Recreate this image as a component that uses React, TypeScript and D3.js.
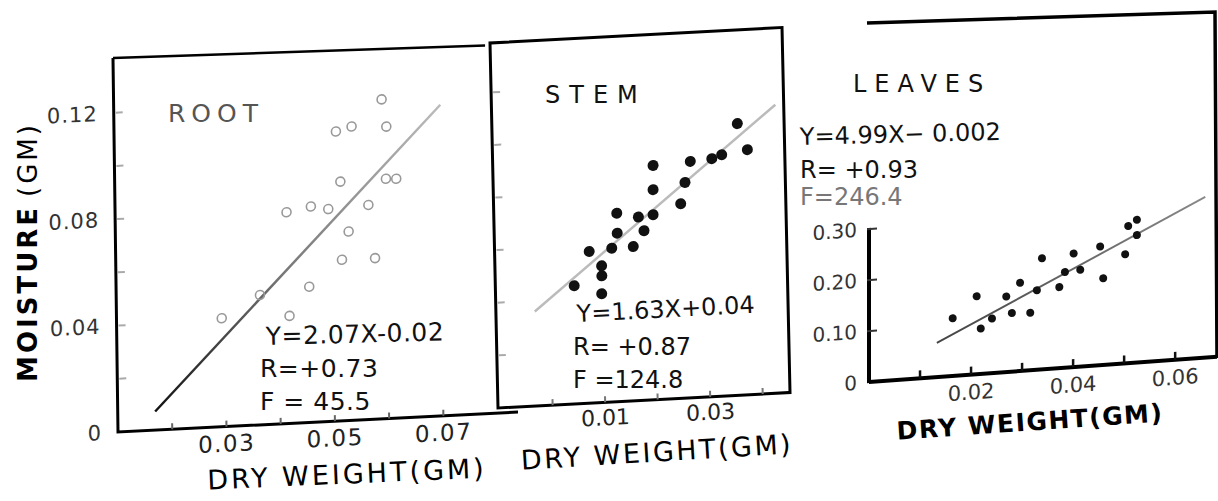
import * as d3 from "d3";

// ROOT panel (open symbols)
const rootDry = [0.0594, 0.0509, 0.0538, 0.0602, 0.0516, 0.06, 0.0619, 0.0416, 0.0461, 0.0493, 0.0567, 0.053, 0.0517, 0.0578, 0.0456, 0.0365, 0.0419, 0.0294];
const rootMoist = [0.12, 0.1088, 0.1104, 0.1097, 0.0899, 0.0901, 0.0899, 0.0794, 0.0811, 0.0798, 0.0806, 0.071, 0.0605, 0.0605, 0.051, 0.0488, 0.0404, 0.0408];
const rootFitX = [0.0169, 0.0702];
const rootFitY = [0.007, 0.1169];
const rootXTicks = [0.02, 0.03, 0.04, 0.05, 0.06, 0.07];
const rootXLabels = ["0.03", "0.05", "0.07"];
const rootYTicks = [0.02, 0.04, 0.06, 0.08, 0.1, 0.12];
const rootYLabels = ["0", "0.04", "0.08", "0.12"];
const rootStats = ["Y=2.07X-0.02", "R=+0.73", "F = 45.5"];

// STEM panel (filled dots)
const stemDry = [0.0363, 0.0381, 0.0313, 0.0332, 0.0272, 0.0201, 0.0261, 0.02, 0.0252, 0.013, 0.0171, 0.0199, 0.013, 0.0181, 0.0076, 0.0119, 0.016, 0.0099, 0.0099, 0.0046, 0.0098];
const stemMoist = [0.1032, 0.0931, 0.0904, 0.0917, 0.0898, 0.089, 0.0819, 0.0798, 0.0739, 0.0716, 0.0697, 0.0703, 0.064, 0.0644, 0.0576, 0.0584, 0.0586, 0.0519, 0.0481, 0.0449, 0.0413];
const stemFitX = [-0.003, 0.0436];
const stemFitY = [0.0359, 0.1096];
const stemXTicks = [0, 0.01, 0.02, 0.03, 0.04];
const stemXLabels = ["0.01", "0.03"];
const stemYTicks = [0.02, 0.04, 0.06, 0.08, 0.1, 0.12];
const stemStats = ["Y=1.63X+0.04", "R= +0.87", "F =124.8"];

// LEAVES panel
const leafDry = [0.0164, 0.0211, 0.0219, 0.0241, 0.0269, 0.028, 0.0296, 0.0316, 0.0329, 0.0339, 0.0373, 0.0384, 0.0401, 0.0414, 0.0453, 0.0459, 0.0502, 0.0508, 0.0525, 0.0525];
const leafMoist = [0.113, 0.153, 0.089, 0.107, 0.148, 0.115, 0.173, 0.113, 0.156, 0.218, 0.159, 0.188, 0.223, 0.19, 0.233, 0.17, 0.214, 0.269, 0.28, 0.25];
const leafFitX = [0.0133, 0.0659];
const leafFitY = [0.067, 0.315];
const leafXTicks = [0.01, 0.02, 0.03, 0.04, 0.05, 0.06];
const leafXLabels = ["0.02", "0.04", "0.06"];
const leafYTicks = [0.1, 0.2, 0.3];
const leafYLabels = ["0", "0.10", "0.20", "0.30"];
const leafStats = ["Y=4.99X\u2212 0.002", "R= +0.93", "F=246.4"];

const font = "'DejaVu Sans', sans-serif";

export default function App() {
  const width = 1218;
  const height = 501;

  // local scales; each panel group is skewed like the scanned original
  const rx = d3.scaleLinear().domain([0.01, 0.0786]).range([0, 372]);
  const ry = d3.scaleLinear().domain([0, 0.1406]).range([0, -374]);
  const sx = d3.scaleLinear().domain([-0.0104, 0.0452]).range([0, 292]);
  const sy = d3.scaleLinear().domain([0, 0.1388]).range([0, -365]);
  const lx = d3.scaleLinear().domain([0, 0.0682]).range([0, 348]);
  const ly = d3.scaleLinear().domain([0, 0.302]).range([0, -154]);

  const rootLine = d3.line<number>().x((d) => rx(d)).y((d, i) => ry(rootFitY[i]));
  const stemLine = d3.line<number>().x((d) => sx(d)).y((d, i) => sy(stemFitY[i]));
  const leafLine = d3.line<number>().x((d) => lx(d)).y((d, i) => ly(leafFitY[i]));

  return (
    <svg
      width={width}
      height={height}
      style={{ position: "absolute", left: 0, top: 0, background: "#fff" }}
      fontFamily={font}
    >
      <defs>
        <linearGradient id="rootGrad" x1="0" y1="1" x2="1" y2="0">
          <stop offset="0" stopColor="#111" />
          <stop offset="0.45" stopColor="#777" />
          <stop offset="1" stopColor="#bbb" />
        </linearGradient>
        <linearGradient id="leafGrad" x1="0" y1="1" x2="1" y2="0">
          <stop offset="0" stopColor="#444" />
          <stop offset="1" stopColor="#888" />
        </linearGradient>
      </defs>

      {/* ROOT */}
      <g transform="matrix(1,-0.05,0.0134,1,118,432)">
        <path d={`M0,${ry(0.1406)} L0,0 L400,0`} fill="none" stroke="#000" strokeWidth={3} />
        <line x1={0} y1={ry(0.1406)} x2={372} y2={ry(0.1406) + 6} stroke="#000" strokeWidth={2.5} />
        {rootYTicks.map((t) => (
          <line key={t} x1={2} x2={9} y1={ry(t)} y2={ry(t)} stroke="#aaa" strokeWidth={2} />
        ))}
        {rootXTicks.map((t) => (
          <line key={t} x1={rx(t)} x2={rx(t)} y1={0} y2={-6} stroke="#666" strokeWidth={2} />
        ))}
        {rootXLabels.map((l) => (
          <text key={l} x={rx(+l)} y={25} textAnchor="middle" fontSize={23} letterSpacing={1.5} fill="#222">
            {l}
          </text>
        ))}
        {rootYLabels.map((l) => (
          <text key={l} x={-16} y={ry(+l)} dy="0.35em" textAnchor="end" fontSize={21} letterSpacing={1} fill="#333">
            {l}
          </text>
        ))}
        <path d={rootLine(rootFitX) || ""} stroke="url(#rootGrad)" strokeWidth={2.5} fill="none" />
        {rootDry.map((d, i) => (
          <circle key={i} cx={rx(d)} cy={ry(rootMoist[i])} r={4.5} fill="none" stroke="#999" strokeWidth={1.6} />
        ))}
      </g>
      <text x={168} y={122} fontSize={25} letterSpacing={6} fill="#555">ROOT</text>
      <g fontSize={25} fill="#111" letterSpacing={0.5}>
        <text x={266} y={345} transform="rotate(-1.5,266,345)">{rootStats[0]}</text>
        <text x={260} y={377}>{rootStats[1]}</text>
        <text x={260} y={410}>{rootStats[2]}</text>
      </g>
      <text
        transform="translate(28,252) rotate(-90)"
        textAnchor="middle"
        dominantBaseline="central"
        fontSize={26}
        letterSpacing={3}
      >
        <tspan fontWeight="bold">MOISTURE</tspan>
        <tspan dx={8}>(GM)</tspan>
      </text>
      <text
        transform="translate(347,474) rotate(-2.5)"
        textAnchor="middle"
        dominantBaseline="central"
        fontSize={27}
        letterSpacing={3}
      >
        DRY WEIGHT(GM)
      </text>

      {/* STEM */}
      <g transform="matrix(1,-0.053,0.0219,1,498,408)">
        <path d={`M0,0 L0,${sy(0.1388)} L292,${sy(0.1388)} L292,0 Z`} fill="none" stroke="#000" strokeWidth={3} />
        {stemYTicks.map((t) => (
          <line key={t} x1={2} x2={9} y1={sy(t)} y2={sy(t)} stroke="#aaa" strokeWidth={2} />
        ))}
        {stemXTicks.map((t) => (
          <line key={t} x1={sx(t)} x2={sx(t)} y1={0} y2={-6} stroke="#777" strokeWidth={2} />
        ))}
        {stemXLabels.map((l) => (
          <text key={l} x={sx(+l)} y={23} textAnchor="middle" fontSize={22} fill="#222">
            {l}
          </text>
        ))}
        <path d={stemLine(stemFitX) || ""} stroke="#bbb" strokeWidth={2.5} fill="none" />
        {stemDry.map((d, i) => (
          <circle key={i} cx={sx(d)} cy={sy(stemMoist[i])} r={5.5} fill="#111" />
        ))}
      </g>
      <text x={545} y={103} fontSize={24} letterSpacing={9} fill="#111">STEM</text>
      <g fontSize={24} fill="#111">
        <text x={577} y={322} transform="rotate(-3,577,322)">{stemStats[0]}</text>
        <text x={573} y={355}>{stemStats[1]}</text>
        <text x={573} y={388}>{stemStats[2]}</text>
      </g>
      <text
        transform="translate(657,452) rotate(-3.5)"
        textAnchor="middle"
        dominantBaseline="central"
        fontSize={27}
        letterSpacing={2.5}
      >
        DRY WEIGHT(GM)
      </text>

      {/* LEAVES */}
      <path d="M867,23 L1215,12 L1217,358" fill="none" stroke="#000" strokeWidth={3.5} />
      <g transform="matrix(1,-0.0725,0,1,869,382)">
        <line x1={0} y1={1} x2={0} y2={ly(0.302)} stroke="#000" strokeWidth={4} />
        <line x1={0} y1={0} x2={348} y2={0} stroke="#000" strokeWidth={4} />
        {leafYTicks.map((t) => (
          <line key={t} x1={-2} x2={8} y1={ly(t)} y2={ly(t)} stroke="#333" strokeWidth={2} />
        ))}
        {leafXTicks.map((t) => (
          <line key={t} x1={lx(t)} x2={lx(t)} y1={0} y2={-8} stroke="#111" strokeWidth={2.5} />
        ))}
        {leafXLabels.map((l) => (
          <text key={l} x={lx(+l)} y={25} textAnchor="middle" fontSize={21} fill="#333">
            {l}
          </text>
        ))}
        {leafYLabels.map((l) => (
          <text key={l} x={-12} y={ly(+l)} dy="0.35em" textAnchor="end" fontSize={20} fill="#333">
            {l}
          </text>
        ))}
        <path d={leafLine(leafFitX) || ""} stroke="url(#leafGrad)" strokeWidth={2} fill="none" />
        {leafDry.map((d, i) => (
          <circle key={i} cx={lx(d)} cy={ly(leafMoist[i])} r={4} fill="#111" />
        ))}
      </g>
      <text x={853} y={92} fontSize={24} letterSpacing={8} fill="#111">LEAVES</text>
      <g fontSize={24} fill="#111">
        <text x={800} y={145} transform="rotate(-1.5,800,145)">{leafStats[0]}</text>
        <text x={800} y={178}>{leafStats[1]}</text>
        <text x={800} y={205} fill="#777">{leafStats[2]}</text>
      </g>
      <text
        transform="translate(1030,422) rotate(-4)"
        textAnchor="middle"
        dominantBaseline="central"
        fontSize={25}
        fontWeight="bold"
        letterSpacing={1.5}
      >
        DRY WEIGHT(GM)
      </text>
    </svg>
  );
}
